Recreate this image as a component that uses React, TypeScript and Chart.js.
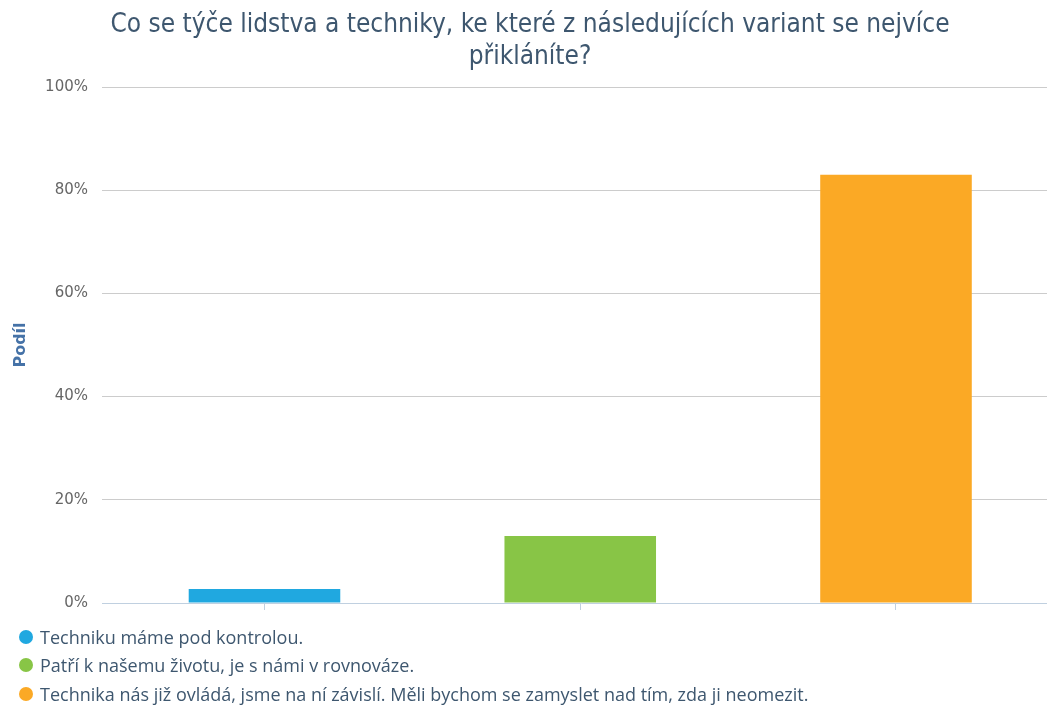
import React, { useEffect, useRef } from 'react';
import { Chart, registerables } from 'chart.js';

Chart.register(...registerables);

const titleLines = [
  'Co se týče lidstva a techniky, ke které z následujících variant se nejvíce',
  'přikláníte?',
];
const categories = [
  'Techniku máme pod kontrolou.',
  'Patří k našemu životu, je s námi v rovnováze.',
  'Technika nás již ovládá, jsme na ní závislí. Měli bychom se zamyslet nad tím, zda ji neomezit.',
];
const shares = [2.7, 13, 83];
const colors = ['#20a8e0', '#88c546', '#fba925'];
const yTicks = [0, 20, 40, 60, 80, 100];
const yTitle = 'Podíl';

const CANVAS_W = 1060;
const CANVAS_H = 706;

export default function App() {
  const ref = useRef<HTMLCanvasElement | null>(null);

  useEffect(() => {
    if (!ref.current) return;
    const chart = new Chart(ref.current, {
      type: 'bar',
      data: {
        datasets: [
          {
            data: shares.map((v, i) => ({ x: i, y: v })),
            backgroundColor: colors,
            borderWidth: 0,
            barPercentage: 0.48,
            categoryPercentage: 1,
          },
        ],
      },
      options: {
        responsive: false,
        animation: false,
        layout: { padding: { left: 0, right: 0, top: 0, bottom: 96 } },
        plugins: {
          legend: { display: false },
          tooltip: { enabled: false },
          title: {
            display: true,
            text: titleLines,
            color: '#3E576F',
            font: {
              family: "'DejaVu Sans Condensed', 'DejaVu Sans'",
              size: 26,
              weight: 'normal',
              lineHeight: 32 / 26,
            },
            padding: { top: 9.5, bottom: 13.5 },
          },
        },
        scales: {
          x: {
            type: 'linear',
            offset: false,
            min: -0.5146,
            max: 2 + (CANVAS_W - 896) / 315.75,
            afterBuildTicks: (s: any) => {
              s.ticks = categories.map((_, i) => ({ value: i }));
            },
            ticks: { display: false },
            grid: {
              offset: false,
              drawOnChartArea: false,
              drawTicks: true,
              tickLength: 7,
              color: '#c0d0e0',
            },
            border: { color: '#c0d0e0', width: 1 },
          },
          y: {
            min: 0,
            max: 100,
            afterBuildTicks: (s: any) => {
              s.ticks = yTicks.map((v) => ({ value: v }));
            },
            ticks: {
              callback: (v: any) => v + '%',
              color: '#666666',
              font: { family: 'DejaVu Sans', size: 15 },
              padding: 14,
            },
            grid: {
              color: (ctx: any) => (ctx.tick && ctx.tick.value === 0 ? 'rgba(0,0,0,0)' : '#cccccc'),
              drawTicks: false,
              lineWidth: 1,
            },
            border: { display: false },
            title: {
              display: true,
              text: yTitle,
              color: '#4572A7',
              font: { family: 'DejaVu Sans', size: 16, weight: 'bold' },
              padding: { top: 11, bottom: 0 },
            },
            afterFit: (s: any) => {
              s.width = 102;
            },
          },
        },
      },
    } as any);
    return () => chart.destroy();
  }, []);

  return (
    <div
      style={{
        position: 'fixed',
        left: 0,
        top: 0,
        width: 1047,
        height: 706,
        overflow: 'hidden',
        background: '#ffffff',
      }}
    >
      <canvas ref={ref} width={CANVAS_W} height={CANVAS_H} />
      <div style={{ position: 'absolute', left: 0, top: 622.5 }}>
        {categories.map((c, i) => (
          <div
            key={i}
            style={{
              position: 'relative',
              height: 28.5,
              display: 'flex',
              alignItems: 'center',
              whiteSpace: 'nowrap',
            }}
          >
            <span
              style={{
                position: 'absolute',
                left: 19,
                top: 7.25,
                width: 14,
                height: 14,
                borderRadius: '50%',
                background: colors[i],
              }}
            />
            <span
              style={{
                marginLeft: 40,
                fontFamily: '"Open Sans", sans-serif',
                fontSize: 18,
                color: '#3E576F',
                lineHeight: '28.5px',
              }}
            >
              {c}
            </span>
          </div>
        ))}
      </div>
    </div>
  );
}
